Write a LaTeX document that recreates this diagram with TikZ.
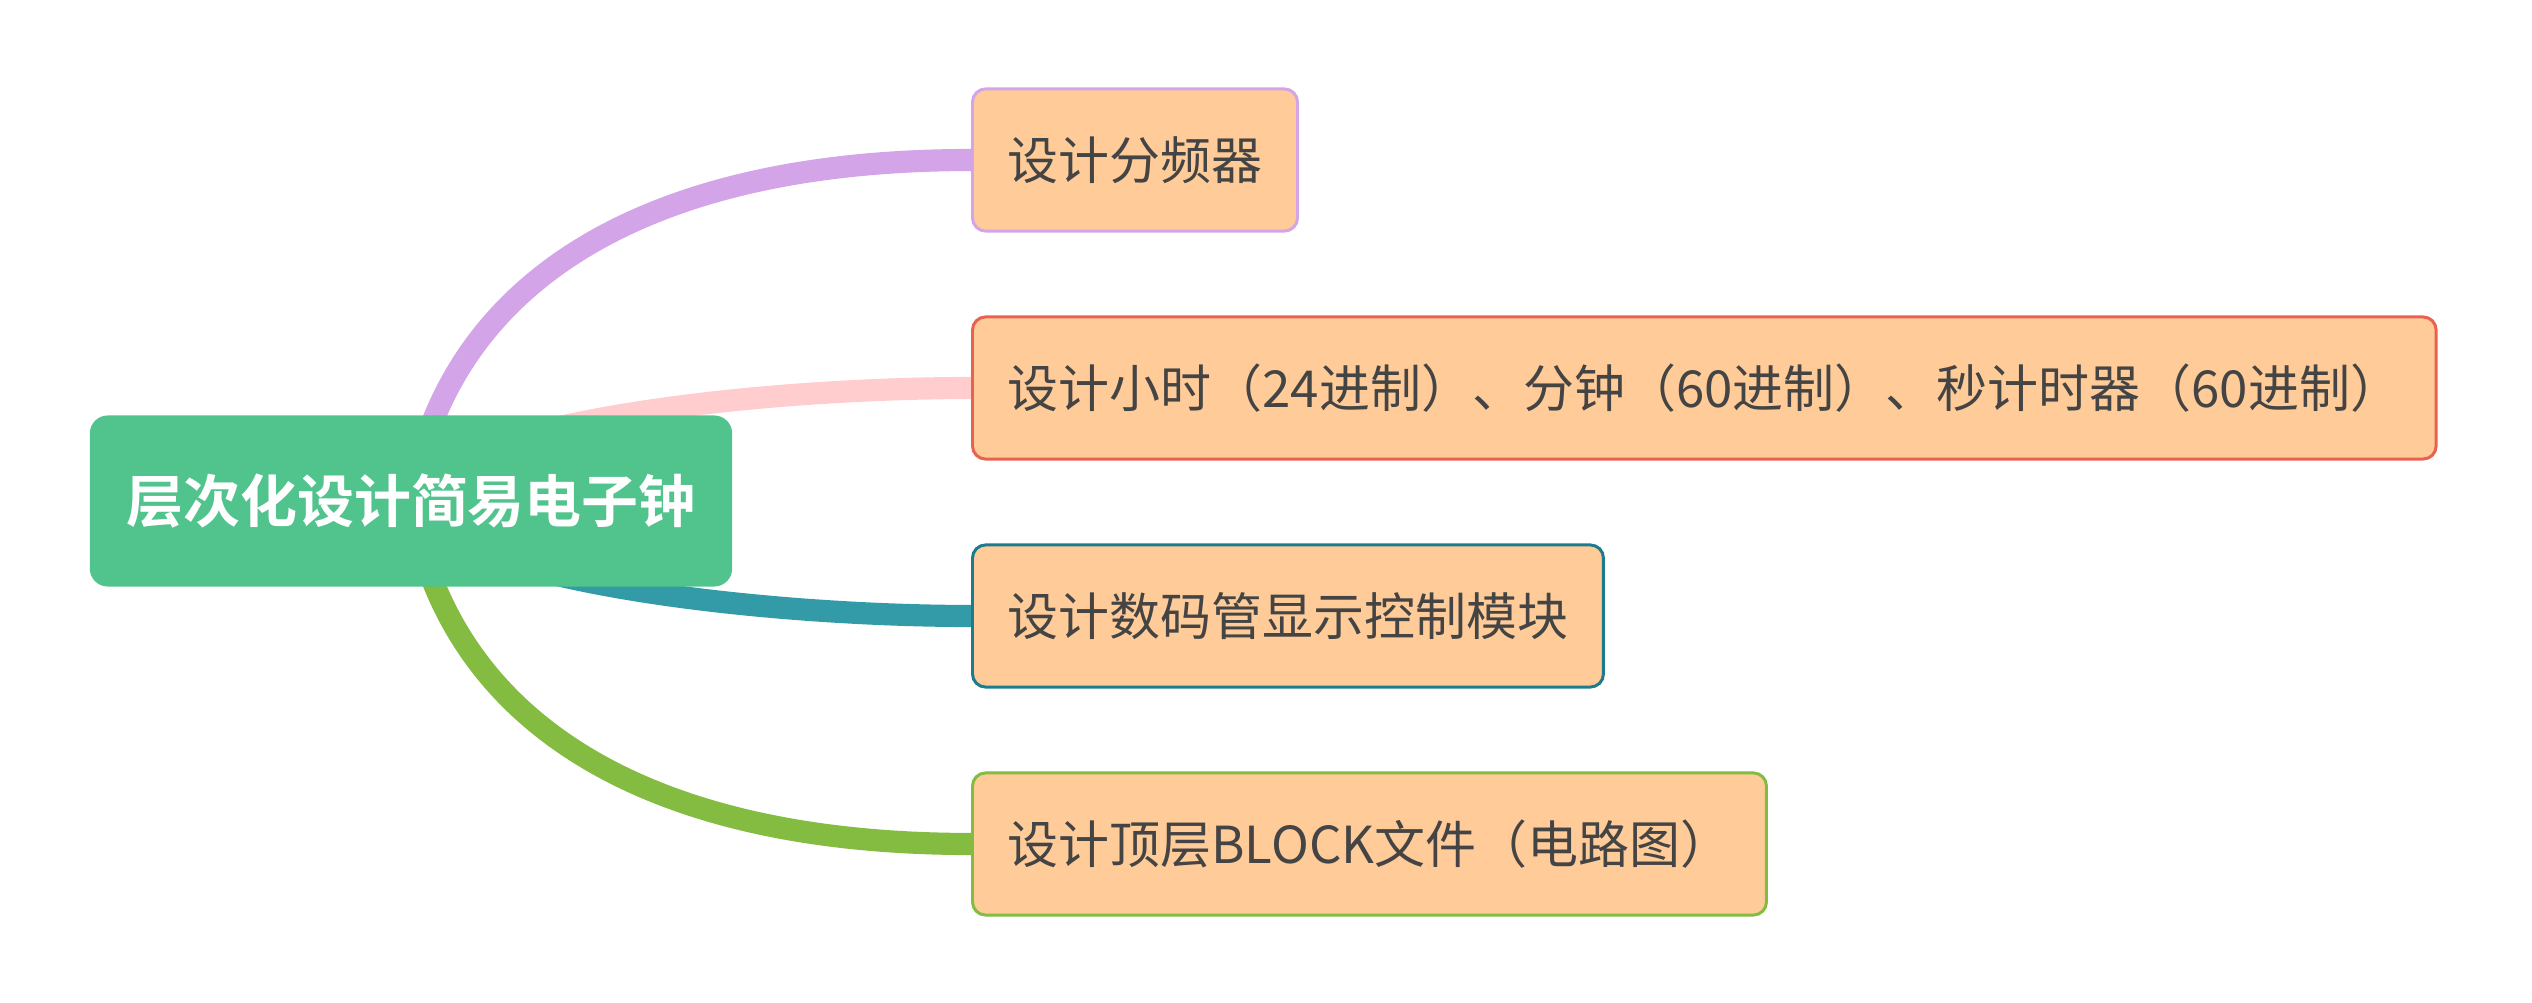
\documentclass[tikz,border=0pt]{standalone}
\usepackage{fontspec}
\setmainfont{Noto Sans CJK SC}[BoldFont={Noto Sans CJK SC Bold}]
\usetikzlibrary{calc,backgrounds}
\definecolor{rootgreen}{HTML}{51C38C}
\definecolor{peach}{HTML}{FFCC99}
\definecolor{textgray}{HTML}{444444}
\definecolor{purpleline}{HTML}{D3A4E8}
\definecolor{pinkline}{HTML}{FFCDCD}
\definecolor{redborder}{HTML}{E8624F}
\definecolor{tealline}{HTML}{339BA8}
\definecolor{tealborder}{HTML}{1C7B8E}
\definecolor{greenline}{HTML}{83BC40}

\begin{document}
\begin{tikzpicture}[x=0.01cm,y=0.01cm,
	topic/.style={draw,line width=0.85pt,fill=peach,rounded corners=0.13cm,anchor=west,
		minimum height=1.42cm,inner xsep=0.35cm,text=textgray,font=\fontsize{14.5pt}{17pt}\selectfont},
	branch/.style={line width=6.3pt}]
	\useasboundingbox (0,0) rectangle (2532,1002);
	
	%central topic
	\node[fill=rootgreen,rounded corners=0.18cm,minimum width=6.42cm,minimum height=1.71cm,
		text=white,font=\bfseries\fontsize{16.2pt}{19pt}\selectfont] (root) at (411,501) {层次化设计简易电子钟};
	
	%subtopics
	\node[topic,draw=purpleline] (fenpin) at (971,842) {设计分频器}; %box 1
	\node[topic,draw=redborder] (jishi) at (971,614) {设计小时（24进制）、分钟（60进制）、秒计时器（60进制）}; %box 2
	\node[topic,draw=tealborder] (xianshi) at (971,386) {设计数码管显示控制模块}; %box 3
	\node[topic,draw=greenline] (dingceng) at (971,158) {设计顶层BLOCK文件（电路图）}; %box 4
	
	%branches
	\begin{pgfonlayer}{background}
		\draw[branch,purpleline] (root.center) .. controls ($(root.center)+(34,209)$) and ($(fenpin.west)+(-341,0)$) .. (fenpin.west);
		\draw[branch,pinkline] (root.center) .. controls ($(root.center)+(29,79)$) and ($(jishi.west)+(-211,0)$) .. (jishi.west);
		\draw[branch,tealline] (root.center) .. controls ($(root.center)+(29,-79)$) and ($(xianshi.west)+(-211,0)$) .. (xianshi.west);
		\draw[branch,greenline] (root.center) .. controls ($(root.center)+(34,-209)$) and ($(dingceng.west)+(-343,0)$) .. (dingceng.west);
	\end{pgfonlayer}
\end{tikzpicture}
\end{document}
